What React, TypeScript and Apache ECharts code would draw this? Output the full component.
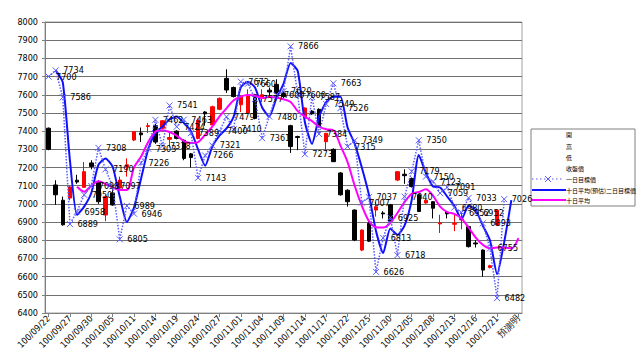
import React, { useEffect, useRef } from "react";
import * as echarts from "echarts";

const categories = [
  "100/09/22", "100/09/23", "100/09/26", "100/09/27", "100/09/28", "100/09/29", "100/09/30",
  "100/10/03", "100/10/04", "100/10/05", "100/10/06", "100/10/07", "100/10/11", "100/10/12",
  "100/10/13", "100/10/14", "100/10/17", "100/10/18", "100/10/19", "100/10/20", "100/10/21",
  "100/10/24", "100/10/25", "100/10/26", "100/10/27", "100/10/28", "100/10/31", "100/11/01",
  "100/11/02", "100/11/03", "100/11/04", "100/11/07", "100/11/08", "100/11/09", "100/11/10",
  "100/11/11", "100/11/14", "100/11/15", "100/11/16", "100/11/17", "100/11/18", "100/11/21",
  "100/11/22", "100/11/23", "100/11/24", "100/11/25", "100/11/28", "100/11/29", "100/11/30",
  "100/12/01", "100/12/02", "100/12/05", "100/12/06", "100/12/07", "100/12/08", "100/12/09",
  "100/12/12", "100/12/13", "100/12/14", "100/12/15", "100/12/16", "100/12/19", "100/12/20",
  "100/12/21", "100/12/22", "100/12/23", "預測明",
];

const openPrice = [
  7416, 7104, 7020, 7032, 7130, 7091, 7225, 7122, 6939, 7060, 7087, 7205, 7351, 7390,
  7425, 7430, 7416, 7355, 7400, 7350, 7275, 7360, 7505, 7434, 7520, 7690, 7640, 7545,
  7500, 7600, 7580, 7625, 7657, 7610, 7430, 7370, 7472, 7510, 7520, 7342, 7300, 7170,
  7075, 6966, 6746, 6893, 6966, 6950, 6995, 7131, 7163, 7140, 7050, 7005, 7012, 6890,
  6955, 6888, 6912, 6875, 6785, 6746, 6650, 6884, null, null, null,
];
const closePrice = [
  7300, 7050, 6885, 7093, 7120, 7177, 7205, 7012, 7040, 6994, 7131, 7215, 7397, 7380,
  7430, 7340, 7457, 7365, 7360, 7250, 7255, 7460, 7495, 7534, 7580, 7626, 7590, 7590,
  7600, 7470, 7600, 7615, 7608, 7590, 7315, 7365, 7527, 7495, 7425, 7388, 7232, 7050,
  7012, 6801, 6856, 6795, 6984, 6945, 6905, 7177, 7155, 7095, 6958, 7020, 6976, 6895,
  6945, 6893, 6917, 6765, 6780, 6636, 6660, 6966, null, null, null,
];
const lowPrice = [
  7295, 6995, 6880, 7020, 7110, 7090, 7190, 7000, 6905, 6990, 7080, 7150, 7345, 7340,
  7390, 7330, 7410, 7310, 7355, 7240, 7200, 7355, 7430, 7430, 7515, 7610, 7585, 7505,
  7495, 7465, 7560, 7590, 7600, 7580, 7280, 7295, 7470, 7490, 7420, 7290, 7230, 7045,
  6985, 6795, 6740, 6790, 6930, 6920, 6900, 7125, 7110, 7090, 6955, 7000, 6920, 6840,
  6920, 6850, 6860, 6760, 6760, 6600, 6645, 6880, null, null, null,
];
const highPrice = [
  7420, 7130, 7040, 7100, 7160, 7230, 7240, 7130, 7050, 7080, 7150, 7250, 7400, 7420,
  7445, 7440, 7460, 7390, 7405, 7355, 7280, 7470, 7510, 7540, 7585, 7740, 7645, 7595,
  7630, 7605, 7630, 7640, 7685, 7620, 7435, 7375, 7530, 7515, 7525, 7390, 7305, 7175,
  7080, 6970, 6860, 6910, 7010, 6960, 7000, 7180, 7190, 7145, 7055, 7025, 7015, 6940,
  6960, 6940, 6950, 6880, 6800, 6750, 6665, 6970, null, null, null,
];

// 一日目標價 (dotted with markers)
const targetOneDay = [
  7700, 7734, 7586, 6889, 6958, 7050, 7098, 7308, 7190, 7097, 6805, 6989, 6946, 7226,
  7303, 7462, 7318, 7541, 7424, 7463, 7389, 7143, 7266, 7321, 7400, 7479, 7410, 7672,
  7660, 7577, 7361, 7480, 7600, 7620, 7866, 7600, 7273, 7587, 7384, 7549, 7663, 7526,
  7315, 7349, 7007, 7037, 6626, 6813, 6925, 6718, 7040, 7179, 7350, 7150, 7123, 7059,
  7091, 6980, 6952, 7033, 6952, 6893, 6755, 6482, 7026, null, null,
];

// 十日平均(預估)二日目標價 (solid blue)
const targetTwoDay = [
  null, 7734, 7668, 7240, 6939, 6985, 7060, 7214, 7250, 7204, 7040, 6900, 6980, 7140,
  7300, 7390, 7425, 7465, 7480, 7445, 7400, 7300, 7210, 7315, 7375, 7415, 7480, 7640,
  7672, 7640, 7530, 7480, 7580, 7660, 7775, 7730, 7450, 7330, 7480, 7560, 7589, 7589,
  7420, 7330, 7200, 7050, 6850, 6730, 6865, 6830, 6880, 7020, 7269, 7170, 7095, 7090,
  7040, 6990, 6915, 6990, 6965, 6880, 6800, 6614, 6790, 7021, null,
];

// 十日平均 (magenta)
const movingAverage = [
  null, null, null, null, 7094, 7067, 7100, 7125, 7110, 7090, 7076, 7076, 7200, 7260,
  7340, 7397, 7405, 7395, 7375, 7345, 7335, 7340, 7380, 7425, 7480, 7525, 7570, 7590,
  7598, 7595, 7582, 7588, 7585, 7575, 7560, 7510, 7480, 7455, 7425, 7410, 7405, 7320,
  7230, 7100, 6990, 6905, 6872, 6870, 6895, 6950, 7010, 7055, 7065, 7080, 7045, 6985,
  6955, 6945, 6920, 6870, 6815, 6775, 6755, 6760, 6760, 6755, 6812,
];

const legendLabels = ["開", "高", "低", "收盤價", "一日目標價", "十日平均(預估)二日目標價", "十日平均"];

const FONT = "'Liberation Sans Narrow', 'DejaVu Sans Condensed', 'Liberation Sans', sans-serif";

export default function App() {
  const ref = useRef<HTMLDivElement>(null);
  useEffect(() => {
    const chart = echarts.init(ref.current!, null, { renderer: "svg" });
    const toSeries = (arr: (number | null)[]) => arr.map((v) => (v == null ? "-" : v));
    const candles = categories.map((_, i) =>
      openPrice[i] == null ? "-" : [openPrice[i], closePrice[i], lowPrice[i], highPrice[i]]
    );
    const legendY = [134, 146, 157, 168, 179, 190, 200];
    const legendGraphics: any[] = [
      {
        type: "rect",
        shape: { x: 531, y: 129, width: 104, height: 77 },
        style: { fill: "#fff", stroke: "#808080", lineWidth: 1 },
      },
      {
        type: "line",
        shape: { x1: 532, y1: legendY[4], x2: 564, y2: legendY[4] },
        style: { stroke: "#5a5aff", lineWidth: 1.2, lineDash: [1.5, 2.5] },
      },
      {
        type: "polyline",
        shape: { points: [[545, 176], [551, 182]] },
        style: { stroke: "#5a5aff", lineWidth: 1 },
      },
      {
        type: "polyline",
        shape: { points: [[551, 176], [545, 182]] },
        style: { stroke: "#5a5aff", lineWidth: 1 },
      },
      {
        type: "line",
        shape: { x1: 532, y1: legendY[5], x2: 566, y2: legendY[5] },
        style: { stroke: "#1010ff", lineWidth: 2 },
      },
      {
        type: "line",
        shape: { x1: 532, y1: legendY[6], x2: 566, y2: legendY[6] },
        style: { stroke: "#ff00ff", lineWidth: 2 },
      },
    ];
    legendLabels.forEach((t, i) => {
      legendGraphics.push({
        type: "text",
        x: 566,
        y: legendY[i],
        style: {
          text: t,
          fontSize: 6,
          fill: "#000",
          fontFamily: "'Noto Sans CJK TC', sans-serif",
          verticalAlign: "middle",
          align: "left",
        },
      });
    });

    chart.setOption({
      animation: false,
      backgroundColor: "#fff",
      grid: {
        left: 45,
        right: 118,
        top: 22,
        bottom: 42,
        show: true,
        borderColor: "#a0a0a0",
        borderWidth: 1,
      },
      xAxis: {
        type: "category",
        data: categories,
        boundaryGap: true,
        axisLine: { show: true, lineStyle: { color: "#808080" } },
        axisTick: { show: true, interval: 2, alignWithLabel: true, length: 4, lineStyle: { color: "#808080" } },
        axisLabel: {
          interval: 2,
          rotate: 45,
          fontSize: 9,
          margin: 4,
          color: "#000",
          fontFamily: FONT,
        },
        splitLine: { show: false },
      },
      yAxis: {
        type: "value",
        min: 6400,
        max: 8000,
        interval: 100,
        axisLine: { show: true, lineStyle: { color: "#808080" } },
        axisTick: { show: true, length: 3, lineStyle: { color: "#808080" } },
        axisLabel: {
          fontSize: 9,
          color: "#000",
          margin: 7,
          fontFamily: FONT,
          formatter: (v: number) => String(v),
        },
        splitLine: { show: true, lineStyle: { color: "#707070", width: 1 } },
      },
      graphic: legendGraphics,
      series: [
        {
          name: "K線",
          type: "candlestick",
          data: candles,
          barWidth: 4,
          itemStyle: {
            color: "#ff0000",
            color0: "#000000",
            borderColor: "#ff0000",
            borderColor0: "#000000",
            borderWidth: 1,
          },
        },
        {
          name: "一日目標價",
          type: "line",
          data: toSeries(targetOneDay),
          symbol: "path://M0,0L8,8M8,0L0,8",
          symbolSize: 6,
          showAllSymbol: true,
          lineStyle: { color: "#5a5aff", width: 1.5, type: "dotted" },
          itemStyle: { color: "#5a5aff", borderColor: "#5a5aff", borderWidth: 1 },
          label: {
            show: true,
            position: "right",
            distance: 4,
            fontSize: 9,
            color: "#000",
            fontFamily: FONT,
          },
          z: 4,
        },
        {
          name: "十日平均(預估)二日目標價",
          type: "line",
          data: toSeries(targetTwoDay),
          symbol: "none",
          smooth: 0.2,
          lineStyle: { color: "#1010ff", width: 2 },
          z: 3,
        },
        {
          name: "十日平均",
          type: "line",
          data: toSeries(movingAverage),
          symbol: "none",
          smooth: 0.3,
          lineStyle: { color: "#ff00ff", width: 2 },
          z: 3,
        },
      ],
    });
    return () => chart.dispose();
  }, []);
  return (
    <div
      ref={ref}
      style={{ position: "absolute", left: 0, top: 0, width: 640, height: 355, background: "#fff" }}
    />
  );
}
